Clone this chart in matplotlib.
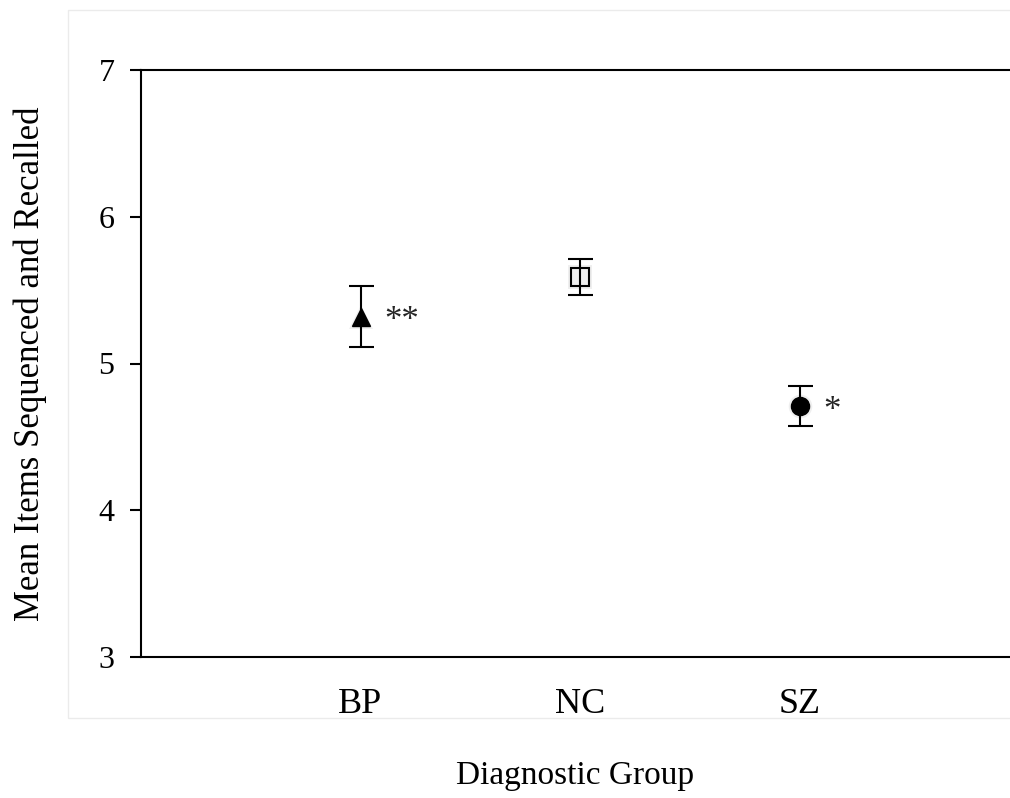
import numpy as np
import matplotlib.pyplot as plt
from matplotlib.patches import Rectangle

plt.rcParams['font.family'] = ['Liberation Serif', 'DejaVu Serif']

# group means and error bar half-widths
groups = ['BP', 'NC', 'SZ']
means = [5.32, 5.59, 4.71]
errs = [0.21, 0.125, 0.135]
stars = ['**', '', '*']

fig = plt.figure(figsize=(10.1, 7.98), dpi=100)
# faint outer frame of the chart area
fig.patches.append(Rectangle((68 / 1010, 1 - 718 / 798), 1, (718 - 10) / 798,
                             transform=fig.transFigure, fill=False,
                             edgecolor='#ebebeb', linewidth=1))

ax = fig.add_axes([141 / 1010, 1 - 657 / 798, (1010 - 141) / 1010, (657 - 70) / 798])
x = np.arange(1, len(groups) + 1)

# soft shadow behind the markers
for xi, m, mk in zip(x, means, ['^', 's', 'o']):
    ax.plot(xi, m, marker=mk, ms=17, color='0.5', alpha=0.12, mew=0, zorder=1)

# BP triangle
ax.errorbar(x[0], means[0], yerr=errs[0], fmt='^', color='black', ms=13,
            capsize=9, elinewidth=1.5, capthick=1.5)
# NC open square
ax.errorbar(x[1], means[1], yerr=errs[1], fmt='s', mfc='none', mec='black',
            color='black', ms=13, mew=1.5, capsize=9, elinewidth=1.5, capthick=1.5)
# SZ circle
ax.errorbar(x[2], means[2], yerr=errs[2], fmt='o', color='black', ms=13,
            capsize=9, elinewidth=1.5, capthick=1.5)

for xi, m, s in zip(x, means, stars):
    if s:
        ax.annotate(s, xy=(xi, m), xytext=(17, -10), textcoords='offset points',
                    fontsize=25, va='baseline', ha='left', color='0.15')

ax.set_xlim(0, (1010 - 141) / 219.5)
ax.set_ylim(3, 7)
ax.set_yticks([3, 4, 5, 6, 7])
ax.set_xticks(x)
ax.set_xticklabels(groups)
ax.tick_params(axis='x', length=0, pad=22, labelsize=26)
ax.tick_params(axis='y', length=8, width=1.5, pad=11, labelsize=23)
ax.spines['right'].set_visible(False)
for sp in ['left', 'top', 'bottom']:
    ax.spines[sp].set_linewidth(1.5)

ax.set_ylabel('Mean Items Sequenced and Recalled', fontsize=25, labelpad=37)
ax.set_xlabel('Diagnostic Group', fontsize=24, labelpad=29)

fig.savefig('out.png', dpi=100)
